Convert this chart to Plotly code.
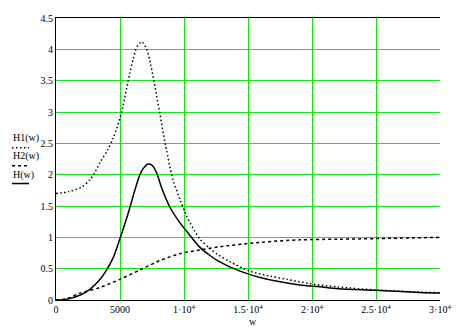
import plotly.graph_objects as go

# H1(w) - dotted
h1_w = [0, 1000, 2000, 2650, 3000, 3450, 4000, 4450, 4750, 5000, 5260, 5520, 5780, 6040,
        6300, 6700, 7080, 7340, 7600, 7860, 8120, 8380, 8650, 8900, 9170, 9690, 10210, 10860,
        11250, 12030, 12680, 13600, 15150, 16720, 18020, 19840, 21930, 25000, 28000, 30000]
h1_v = [1.70, 1.73, 1.80, 1.92, 2.02, 2.20, 2.38, 2.58, 2.74, 2.90, 3.12, 3.38, 3.63, 3.85,
        4.03, 4.12, 4.01, 3.81, 3.55, 3.26, 2.97, 2.66, 2.38, 2.12, 1.90, 1.60, 1.34, 1.09,
        0.97, 0.82, 0.72, 0.61, 0.46, 0.38, 0.33, 0.26, 0.21, 0.16, 0.13, 0.115]

# H2(w) - dashed
h2_w = [0, 830, 1875, 3440, 5000, 6560, 8125, 9690, 11250, 12810, 15940, 19060, 22050, 25000, 30000]
h2_v = [0, 0.02, 0.11, 0.20, 0.33, 0.48, 0.63, 0.74, 0.80, 0.85, 0.92, 0.96, 0.97, 0.98, 1.0]

# H(w) - solid
h_w = [0, 800, 1900, 2650, 3450, 3830, 4480, 5000, 5390, 5780, 6170, 6560, 6820, 7210, 7500, 7860,
       8250, 8900, 9690, 10470, 11250, 12030, 12680, 14375, 15940, 17500, 19060, 20620,
       22050, 24900, 28400, 30000]
h_v = [0, 0.01, 0.08, 0.17, 0.33, 0.44, 0.68, 0.98, 1.22, 1.48, 1.76, 2.00, 2.10, 2.17, 2.15, 2.03,
       1.79, 1.48, 1.23, 1.03, 0.84, 0.71, 0.62, 0.46, 0.36, 0.29, 0.24, 0.21,
       0.18, 0.155, 0.12, 0.11]

x_tickvals = [0, 5000, 10000, 15000, 20000, 25000, 30000]
x_ticktext = ["0", "5000", "1·10<sup>4</sup>", "1.5·10<sup>4</sup>", "2·10<sup>4</sup>",
              "2.5·10<sup>4</sup>", "3·10<sup>4</sup>"]
y_tickvals = [0, 0.5, 1, 1.5, 2, 2.5, 3, 3.5, 4, 4.5]
y_ticktext = ["0", "0.5", "1", "1.5", "2", "2.5", "3", "3.5", "4", "4.5"]

legend_labels = ["H1(w)", "H2(w)", "H(w)"]

FONT = "Liberation Serif"
GRID = "#19e619"

fig = go.Figure()
fig.add_trace(go.Scatter(x=h1_w, y=h1_v, mode="lines", line=dict(color="black", width=1.5, dash="1.5px,2.5px", shape="spline", smoothing=0.8)))
fig.add_trace(go.Scatter(x=h2_w, y=h2_v, mode="lines", line=dict(color="black", width=1.5, dash="3px,3px", shape="spline", smoothing=0.8)))
fig.add_trace(go.Scatter(x=h_w, y=h_v, mode="lines", line=dict(color="black", width=1.5, shape="spline", smoothing=0.8)))

fig.update_layout(
    width=464, height=327,
    margin=dict(l=56, r=24, t=12, b=26),
    paper_bgcolor="white", plot_bgcolor="white",
    showlegend=False,
    font=dict(family=FONT, size=10, color="black"),
    xaxis=dict(range=[0, 30000], tickvals=x_tickvals, ticktext=x_ticktext,
               showgrid=True, gridcolor=GRID, gridwidth=1, zeroline=False,
               showline=True, linecolor="black", linewidth=1, mirror=True,
               ticks="", tickfont=dict(family=FONT, size=10)),
    yaxis=dict(range=[0, 4.5], tickvals=y_tickvals, ticktext=y_ticktext,
               showgrid=True, gridcolor=GRID, gridwidth=1, zeroline=False,
               showline=True, linecolor="black", linewidth=1, mirror=False,
               ticks="", tickfont=dict(family=FONT, size=10)),
)

# x-axis variable label
fig.add_annotation(text="w", xref="paper", yref="paper", x=0.513, y=0, yshift=-21,
                   showarrow=False, font=dict(family=FONT, size=10), yanchor="middle")

# Mathcad-style legend on the left
leg_text_y = [0.574, 0.511, 0.442]
leg_line_y = [0.540, 0.476, 0.413]
leg_dash = ["1.5px,2.5px", "3px,3px", "solid"]
for lab, ty, ly, d in zip(legend_labels, leg_text_y, leg_line_y, leg_dash):
    fig.add_annotation(text=lab, xref="paper", yref="paper", x=-0.117, y=ty,
                       xanchor="left", yanchor="middle", showarrow=False,
                       font=dict(family=FONT, size=10))
    fig.add_shape(type="line", xref="paper", yref="paper", x0=-0.1146, x1=-0.0703,
                  y0=ly, y1=ly, line=dict(color="black", width=1.5, dash=d))

fig.write_html("out.html")
